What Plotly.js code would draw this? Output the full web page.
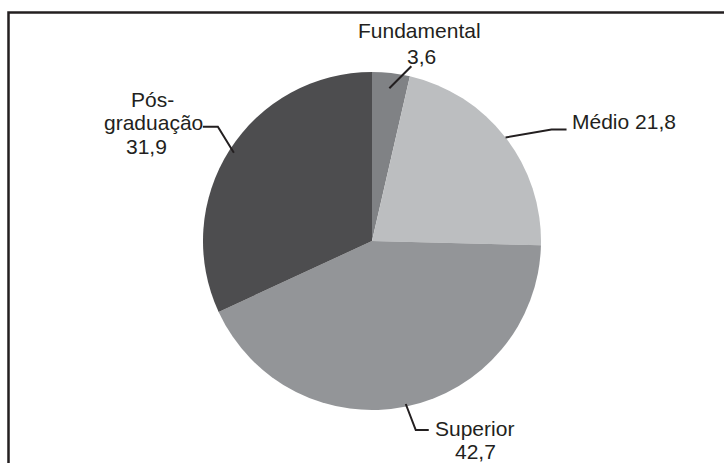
<!DOCTYPE html>
<html>
<head>
<meta charset="utf-8">
<script src="https://cdn.plot.ly/plotly-3.0.1.min.js"></script>
<style>html,body{margin:0;padding:0;background:#fff;}#chart{width:725px;height:463px;}</style>
</head>
<body>
<div id="chart"></div>
<script>
// ---- data ----
var categories = ['Fundamental', 'Médio', 'Superior', 'Pós-graduação'];
var values = [3.6, 21.8, 42.7, 31.9];
var labelLines = [['Fundamental', '3,6'], ['Médio 21,8'], ['Superior', '42,7'], ['Pós-', 'graduação', '31,9']];
var colors = ['#808285', '#bcbec0', '#939598', '#4d4d4f'];

// ---- layout constants (pixels) ----
var W = 725, H = 463;
var CX = 372, CY = 241, R = 169;
var ink = '#231f20';
var fontFam = '"Liberation Sans", Arial, sans-serif';
var fs = 21;

// leader/label geometry per slice, offsets from the anchor point on the slice
var leader = [
  {rf: 0.91, pts: [[22, -22]], text: [[30, -58, 'center'], [32, -32, 'center']]},
  {rf: 1.0, pts: [[46, -8], [61, -8]], text: [[64, -16, 'left']]},
  {rf: 0.985, pts: [[10, 26], [23, 26]], text: [[69, 24, 'center'], [70, 47, 'center']]},
  {rf: 0.97, pts: [[-16, -26], [-31, -26]], text: [[-81, -53, 'center'], [-80, -30, 'center'], [-87, -6, 'center']]}
];

function px(x) { return x / W; }
function py(y) { return 1 - y / H; }

var total = values.reduce(function (a, b) { return a + b; }, 0);
var shapes = [];
var annotations = [];
var cum = 0;
values.forEach(function (v, i) {
  var mid = (cum + v / 2) / total * 2 * Math.PI;
  cum += v;
  var L = leader[i];
  var ax = CX + R * L.rf * Math.sin(mid);
  var ay = CY - R * L.rf * Math.cos(mid);
  var path = 'M' + px(ax) + ',' + py(ay);
  L.pts.forEach(function (p) { path += ' L' + px(ax + p[0]) + ',' + py(ay + p[1]); });
  shapes.push({type: 'path', xref: 'paper', yref: 'paper', path: path,
    line: {color: ink, width: 2}});
  labelLines[i].forEach(function (t, j) {
    var o = L.text[j];
    annotations.push({xref: 'paper', yref: 'paper', x: px(ax + o[0]), y: py(ay + o[1]),
      text: t, showarrow: false, xanchor: o[2], yanchor: 'middle',
      font: {family: fontFam, size: fs, color: ink}});
  });
});

// frame (top and left rules)
shapes.push({type: 'path', xref: 'paper', yref: 'paper',
  path: 'M' + px(8.5) + ',' + py(463) + ' L' + px(8.5) + ',' + py(12.5) + ' L' + px(724) + ',' + py(12.5),
  line: {color: ink, width: 2.5}});

var trace = {
  type: 'pie',
  labels: categories,
  values: values,
  sort: false,
  direction: 'clockwise',
  rotation: 0,
  textinfo: 'none',
  hoverinfo: 'label+value',
  marker: {colors: colors, line: {width: 0}},
  domain: {x: [px(CX - R), px(CX + R)], y: [py(CY + R), py(CY - R)]},
  showlegend: false
};

var layout = {
  width: W, height: H,
  margin: {l: 0, r: 0, t: 0, b: 0},
  paper_bgcolor: '#ffffff',
  showlegend: false,
  shapes: shapes,
  annotations: annotations
};

Plotly.newPlot('chart', [trace], layout, {displayModeBar: false, staticPlot: true});
</script>
</body>
</html>
